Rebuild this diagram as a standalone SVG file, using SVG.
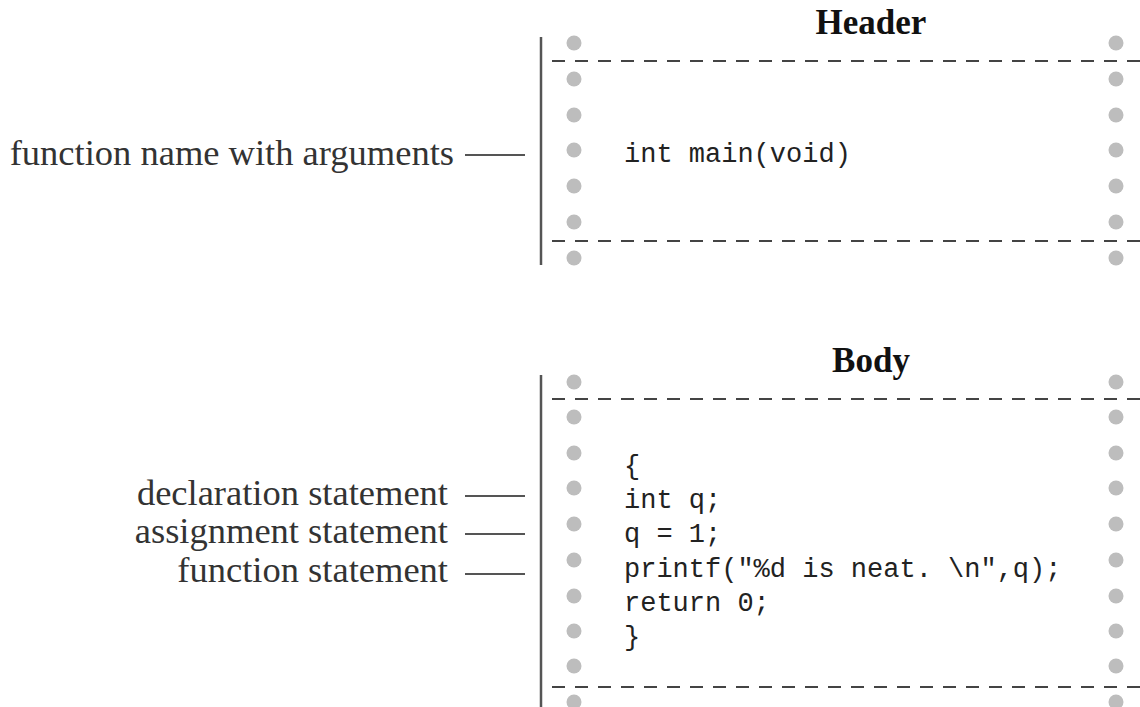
<svg xmlns="http://www.w3.org/2000/svg" width="1140" height="707" viewBox="0 0 1140 707">
<style>
.title{font-family:"Liberation Serif",serif;font-weight:bold;font-size:35px;fill:#111;text-anchor:middle}
.label{font-family:"Liberation Serif",serif;font-size:36.5px;fill:#333;text-anchor:end}
.code{font-family:"Liberation Mono",monospace;font-size:27px;fill:#222}
.dot{fill:#bdbdbd}
.dash{stroke:#444;stroke-width:2;stroke-dasharray:13 10;fill:none}
.edge{stroke:#555;stroke-width:2.5;fill:none}
.lead{stroke:#555;stroke-width:2;fill:none}
</style>
<defs>
<g id="dotcol">
<circle class="dot" cx="0" cy="0" r="7.5"/>
</g>
</defs>
<rect width="1140" height="707" fill="#fff"/>

<g id="header">
<text class="title" x="871" y="34">Header</text>
<line class="edge" x1="541" y1="37" x2="541" y2="265"/>
<g id="header-dots-left">
<use href="#dotcol" x="574" y="43"/><use href="#dotcol" x="574" y="79"/><use href="#dotcol" x="574" y="115"/><use href="#dotcol" x="574" y="150"/><use href="#dotcol" x="574" y="186"/><use href="#dotcol" x="574" y="222"/><use href="#dotcol" x="574" y="258"/>
</g>
<g id="header-dots-right">
<use href="#dotcol" x="1116" y="43"/><use href="#dotcol" x="1116" y="79"/><use href="#dotcol" x="1116" y="115"/><use href="#dotcol" x="1116" y="150"/><use href="#dotcol" x="1116" y="186"/><use href="#dotcol" x="1116" y="222"/><use href="#dotcol" x="1116" y="258"/>
</g>
<line class="dash" x1="552" y1="61" x2="1140" y2="61"/>
<line class="dash" x1="552" y1="241" x2="1140" y2="241"/>
<text class="code" x="624" y="162">int main(void)</text>
</g>

<g id="body">
<text class="title" x="871" y="372">Body</text>
<line class="edge" x1="541" y1="375" x2="541" y2="707"/>
<g id="body-dots-left">
<use href="#dotcol" x="574" y="382"/><use href="#dotcol" x="574" y="417"/><use href="#dotcol" x="574" y="453"/><use href="#dotcol" x="574" y="488"/><use href="#dotcol" x="574" y="524"/><use href="#dotcol" x="574" y="560"/><use href="#dotcol" x="574" y="596"/><use href="#dotcol" x="574" y="631"/><use href="#dotcol" x="574" y="666"/><use href="#dotcol" x="574" y="702"/>
</g>
<g id="body-dots-right">
<use href="#dotcol" x="1116" y="382"/><use href="#dotcol" x="1116" y="417"/><use href="#dotcol" x="1116" y="453"/><use href="#dotcol" x="1116" y="488"/><use href="#dotcol" x="1116" y="524"/><use href="#dotcol" x="1116" y="560"/><use href="#dotcol" x="1116" y="596"/><use href="#dotcol" x="1116" y="631"/><use href="#dotcol" x="1116" y="666"/><use href="#dotcol" x="1116" y="702"/>
</g>
<line class="dash" x1="552" y1="399" x2="1140" y2="399"/>
<line class="dash" x1="552" y1="687" x2="1140" y2="687"/>
<text class="code" x="624" y="474">{</text>
<text class="code" x="624" y="508">int q;</text>
<text class="code" x="624" y="542">q = 1;</text>
<text class="code" x="624" y="577">printf("%d is neat. \n",q);</text>
<text class="code" x="624" y="611">return 0;</text>
<text class="code" x="624" y="645">}</text>
</g>

<g id="label-function-name">
<text class="label" x="454" y="165">function name with arguments</text>
</g>
<g id="label-declaration">
<text class="label" x="448" y="505">declaration statement</text>
</g>
<g id="label-assignment">
<text class="label" x="448" y="543">assignment statement</text>
</g>
<g id="label-function-statement">
<text class="label" x="448" y="582">function statement</text>
</g>

<g id="connectors">
<line class="lead" x1="465" y1="155" x2="525" y2="155"/>
<line class="lead" x1="465" y1="496" x2="525" y2="496"/>
<line class="lead" x1="465" y1="534" x2="525" y2="534"/>
<line class="lead" x1="465" y1="574" x2="525" y2="574"/>
</g>
</svg>
